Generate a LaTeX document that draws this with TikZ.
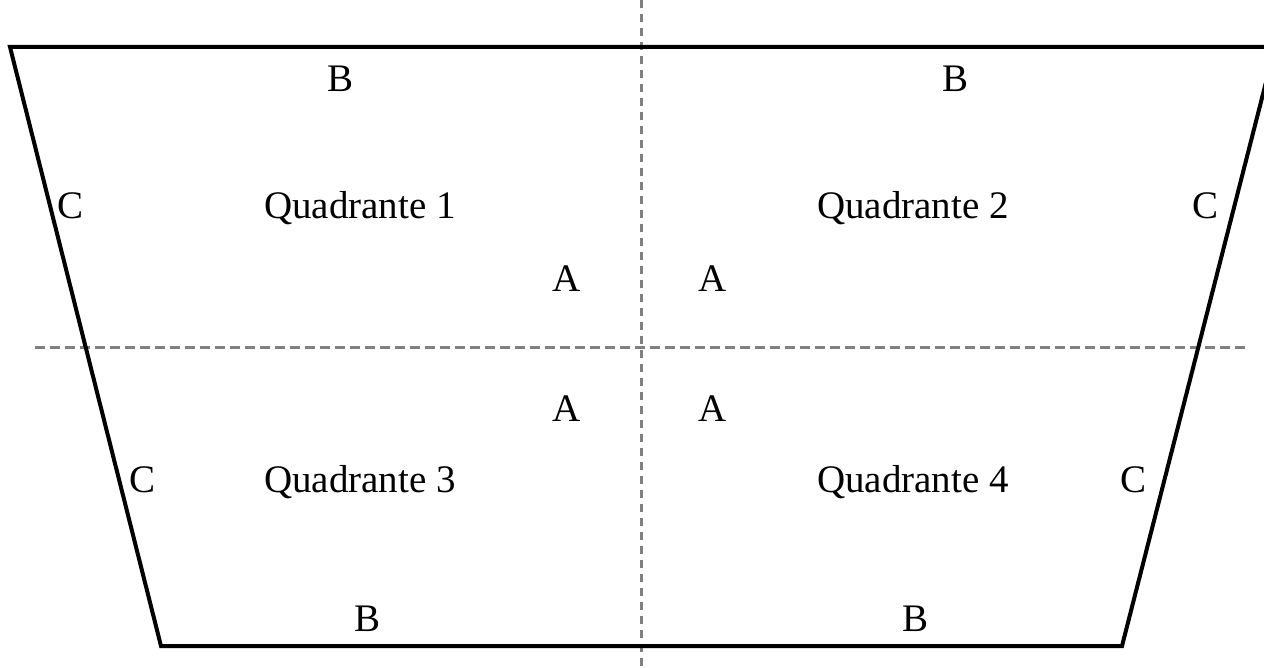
\documentclass[tikz,border=0pt]{standalone}
\usepackage{fontspec}
\setmainfont{Liberation Serif}
\begin{document}
\begin{tikzpicture}[x=1pt,y=-1pt,
  outline/.style={line width=4pt, line join=miter, black},
  guide/.style={line width=3pt, color=black!50, dash pattern=on 8pt off 6pt},
  lbl/.style={inner sep=0pt, anchor=base, font=\fontsize{39}{42}\selectfont}]
\useasboundingbox (0,0) rectangle (1264,668);
\clip (0,0) rectangle (1264,668);
\fill[white] (0,0) rectangle (1264,668);
% trapezoid corners
\coordinate (tl) at (10,47);
\coordinate (tr) at (1275,47);
\coordinate (br) at (1122,646);
\coordinate (bl) at (161,646);
% guide line ends
\coordinate (vt) at (641,0);
\coordinate (vb) at (641,668);
\coordinate (hl) at (35,348);
\coordinate (hr) at (1245,348);
\draw[guide] (vt) -- (vb);
\draw[guide, dash pattern=on 10pt off 5pt] (hl) -- (hr);
\draw[outline] (tl) -- (tr) -- (br) -- (bl) -- cycle;
% labels
\node[lbl] (b1) at (341,92) {B};
\node[lbl] (b2) at (955,92) {B};
\node[lbl] (c1) at (71,219) {C};
\node[lbl] (q1) at (360,219) {Quadrante 1};
\node[lbl] (q2) at (913,219) {Quadrante 2};
\node[lbl] (c2) at (1205,219) {C};
\node[lbl] (a1) at (567,292) {A};
\node[lbl] (a2) at (713,292) {A};
\node[lbl] (a3) at (567,421) {A};
\node[lbl] (a4) at (713,421) {A};
\node[lbl] (c3) at (143,492) {C};
\node[lbl] (q3) at (360,492) {Quadrante 3};
\node[lbl] (q4) at (913,492) {Quadrante 4};
\node[lbl] (c4) at (1133,492) {C};
\node[lbl] (b3) at (368,631) {B};
\node[lbl] (b4) at (915,631) {B};
\end{tikzpicture}
\end{document}
